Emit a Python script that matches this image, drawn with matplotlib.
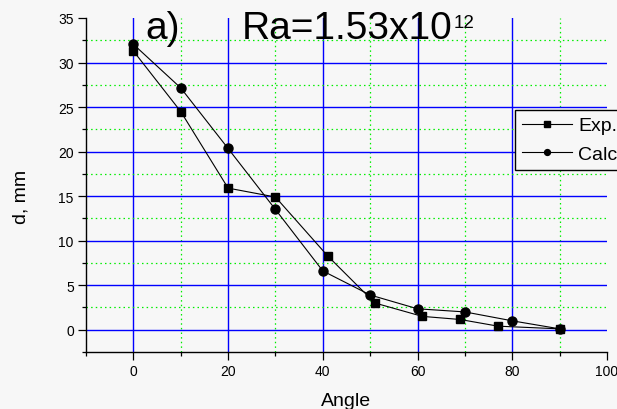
import numpy as np
import matplotlib.pyplot as plt
from matplotlib.ticker import MultipleLocator

plt.rcParams['font.family'] = ['Liberation Sans', 'DejaVu Sans']

# measured drop depth vs. angle
angle_exp = [0, 10, 20, 30, 41, 51, 61, 69, 77, 90]
d_exp = [31.3, 24.5, 15.9, 14.9, 8.3, 3.0, 1.5, 1.15, 0.4, 0.1]

# calculated curve
angle_calc = [0, 10, 20, 30, 40, 50, 60, 70, 80, 90]
d_calc = [32.05, 27.15, 20.35, 13.5, 6.6, 3.9, 2.35, 2.0, 1.0, 0.1]

bg = '#f7f7f7'
fig = plt.figure(figsize=(6.17, 4.10), dpi=100, facecolor=bg)
ax = fig.add_axes([86 / 617, 57 / 410, 521 / 617, 334 / 410], facecolor=bg)

ax.set_xlim(-10, 100)
ax.set_ylim(-2.5, 35)
ax.xaxis.set_major_locator(MultipleLocator(20))
ax.xaxis.set_minor_locator(MultipleLocator(10))
ax.yaxis.set_major_locator(MultipleLocator(5))
ax.yaxis.set_minor_locator(MultipleLocator(2.5))

# grid drawn by hand so nothing lands on the top / right edge
for x in np.arange(0, 81, 20):
    ax.axvline(x, color='#0000ff', lw=1.0, zorder=1)
for x in np.arange(10, 91, 20):
    ax.axvline(x, color='#00ee00', lw=0.9, ls=(0, (1.2, 2.5)), zorder=1)
for y in np.arange(0, 31, 5):
    ax.axhline(y, color='#0000ff', lw=1.0, zorder=1)
for y in np.arange(2.5, 33, 5):
    ax.axhline(y, color='#00ee00', lw=0.9, ls=(0, (1.2, 2.5)), zorder=1)

for s in ('top', 'right'):
    ax.spines[s].set_visible(False)
for s in ('left', 'bottom'):
    ax.spines[s].set_linewidth(1.0)

ax.tick_params(which='major', length=5.8, width=0.9, direction='out', labelsize=10, pad=3)
ax.tick_params(which='minor', length=2.9, width=0.9, direction='out')

ax.plot(angle_exp, d_exp, color='black', lw=0.8, marker='s', ms=5.8,
        mfc='black', mec='black', label='Exp.', zorder=3, clip_on=False)
ax.plot(angle_calc, d_calc, color='black', lw=0.8, marker='o', ms=6.5,
        mfc='black', mec='black', label='Calc.', zorder=3, clip_on=False)

ax.set_xlabel('Angle', fontsize=14, labelpad=10)
ax.set_ylabel('d, mm', fontsize=14)
ax.yaxis.set_label_coords(-0.108, 0.467)

# title: "a)" and the Rayleigh number with a hand-placed exponent
base_y = 1 - 39 / 410
fig.text(145 / 617, base_y, 'a)', fontsize=28, ha='left', va='baseline')
ra = fig.text(242 / 617, base_y, 'Ra=1.53x10', fontsize=28, ha='left', va='baseline')
fig.canvas.draw()
bb = ra.get_window_extent()
fig.text(bb.x1 / 617 + 1 / 617, 1 - 28 / 410, '12', fontsize=13.5,
         ha='left', va='baseline')

leg = ax.legend(loc='upper left', bbox_to_anchor=(515 / 617, 1 - 111 / 410),
                bbox_transform=fig.transFigure, fontsize=14, frameon=True,
                fancybox=False, edgecolor='black', facecolor=bg, framealpha=1,
                markerscale=0.65, handlelength=2.6, handletextpad=0.3,
                borderpad=0.35, labelspacing=0.55, borderaxespad=0)
leg.get_frame().set_linewidth(1.0)

fig.savefig('out.png', dpi=100, facecolor=bg)
